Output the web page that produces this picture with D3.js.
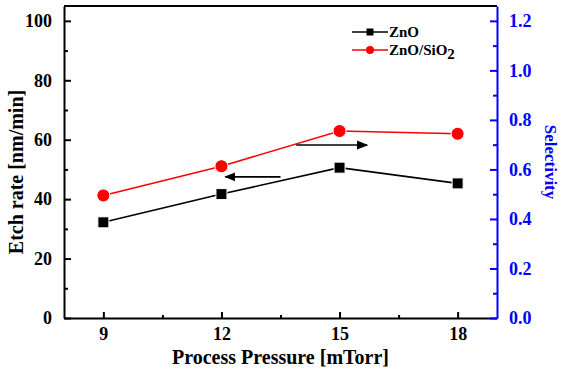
<!DOCTYPE html>
<html>
<head>
<meta charset="utf-8">
<script src="https://cdn.jsdelivr.net/npm/d3@7"></script>
<style>
  body { margin: 0; background: #fff; }
  svg text { font-family: "Liberation Serif", "Times New Roman", serif; font-weight: bold; }
</style>
</head>
<body>
<div id="chart"></div>
<script>
// data
const pressures = [9, 12, 15, 18];
const etchZnO = [32.2, 41.7, 50.6, 45.3];          // nm/min, left axis
const selectivity = [0.495, 0.613, 0.755, 0.744];   // right axis
const xTicks = [9, 12, 15, 18];
const yTicksLeft = [0, 20, 40, 60, 80, 100];
const yTicksRight = [0, 0.2, 0.4, 0.6, 0.8, 1.0, 1.2];

const width = 561, height = 371;
const margin = { top: 6, right: 64, bottom: 53, left: 64 };
const plotW = width - margin.left - margin.right;
const plotH = height - margin.top - margin.bottom;

const svg = d3.select('#chart').append('svg')
  .attr('width', width)
  .attr('height', height);

const g = svg.append('g').attr('transform', `translate(${margin.left},${margin.top})`);

const x = d3.scaleLinear().domain([8, 19]).range([0, plotW]);
const yL = d3.scaleLinear().domain([0, 105]).range([plotH, 0]);
const yR = d3.scaleLinear().domain([0, 1.26]).range([plotH, 0]);

const BLUE = '#0000ff';

// minor ticks (inward)
g.append('g').call(d3.axisBottom(x).tickValues([10.5, 13.5, 16.5]).tickSize(-3).tickFormat(''))
  .attr('transform', `translate(0,${plotH})`)
  .call(s => s.select('.domain').remove())
  .call(s => s.selectAll('line').attr('stroke-width', 2));
g.append('g').call(d3.axisLeft(yL).tickValues([10, 30, 50, 70, 90]).tickSize(-4).tickFormat(''))
  .call(s => s.select('.domain').remove())
  .call(s => s.selectAll('line').attr('stroke-width', 2));
g.append('g').attr('transform', `translate(${plotW},0)`)
  .call(d3.axisRight(yR).tickValues([0.1, 0.3, 0.5, 0.7, 0.9, 1.1]).tickSize(-4).tickFormat(''))
  .call(s => s.select('.domain').remove())
  .call(s => s.selectAll('line').attr('stroke', BLUE).attr('stroke-width', 2));

// major axes
g.append('g').attr('class', 'x-axis')
  .attr('transform', `translate(0,${plotH})`)
  .call(d3.axisBottom(x).tickValues(xTicks).tickSize(-6).tickSizeOuter(0).tickPadding(9))
  .call(s => s.select('.domain').attr('stroke-width', 2))
  .call(s => s.selectAll('line').attr('stroke-width', 2))
  .selectAll('text').style('font-size', '18px').attr('fill', '#000');

g.append('g').attr('class', 'y-axis')
  .call(d3.axisLeft(yL).tickValues(yTicksLeft).tickSize(-7).tickSizeOuter(0).tickPadding(12))
  .call(s => s.select('.domain').attr('stroke-width', 2))
  .call(s => s.selectAll('line').attr('stroke-width', 2))
  .selectAll('text').style('font-size', '18px').attr('fill', '#000');

g.append('g').attr('class', 'y2-axis')
  .attr('transform', `translate(${plotW},0)`)
  .call(d3.axisRight(yR).tickValues(yTicksRight).tickSize(-7).tickSizeOuter(0).tickPadding(12).tickFormat(d3.format('.1f')))
  .call(s => s.select('.domain').attr('stroke', BLUE).attr('stroke-width', 2))
  .call(s => s.selectAll('line').attr('stroke', BLUE).attr('stroke-width', 2))
  .selectAll('text').style('font-size', '18px').attr('fill', BLUE);

// top frame
g.append('line').attr('x1', 0).attr('x2', plotW).attr('y1', 0).attr('y2', 0)
  .attr('stroke', '#000').attr('stroke-width', 2);

// axis titles
svg.append('text')
  .attr('x', margin.left + plotW / 2).attr('y', 364)
  .attr('text-anchor', 'middle')
  .style('font-size', '20px')
  .text('Process Pressure [mTorr]');

svg.append('text')
  .attr('transform', `translate(23,${172}) rotate(-90)`)
  .attr('text-anchor', 'middle')
  .style('font-size', '20px')
  .text('Etch rate [nm/min]');

svg.append('text')
  .attr('transform', `translate(545,${162}) rotate(90)`)
  .attr('text-anchor', 'middle')
  .attr('fill', BLUE)
  .style('font-size', '17px')
  .text('Selectivity');

// series
const znoPts = pressures.map((p, i) => [x(p), yL(etchZnO[i])]);
const selPts = pressures.map((p, i) => [x(p), yR(selectivity[i])]);

g.append('path').attr('d', d3.line()(znoPts))
  .attr('fill', 'none').attr('stroke', '#000').attr('stroke-width', 1.6);
g.append('path').attr('d', d3.line()(selPts))
  .attr('fill', 'none').attr('stroke', '#ff0000').attr('stroke-width', 1.6);

g.selectAll('rect.zno').data(znoPts).join('rect')
  .attr('class', 'zno')
  .attr('x', d => d[0] - 5.5).attr('y', d => d[1] - 5.5)
  .attr('width', 11).attr('height', 11)
  .attr('fill', '#000').attr('stroke', '#fff').attr('stroke-width', 1);
g.selectAll('circle.sel').data(selPts).join('circle')
  .attr('class', 'sel')
  .attr('cx', d => d[0]).attr('cy', d => d[1]).attr('r', 6.5)
  .attr('fill', '#ff0000').attr('stroke', '#fff').attr('stroke-width', 1);

// arrows pointing to the relevant axis
const defs = svg.append('defs');
defs.append('marker').attr('id', 'arr')
  .attr('viewBox', '0 0 10 10').attr('refX', 9).attr('refY', 5)
  .attr('markerWidth', 7).attr('markerHeight', 7).attr('orient', 'auto-start-reverse')
  .append('path').attr('d', 'M0,1 L10,5 L0,9 z').attr('fill', '#000');

g.append('line')
  .attr('x1', x(13.9)).attr('x2', x(15.7))
  .attr('y1', yL(58.2)).attr('y2', yL(58.2))
  .attr('stroke', '#000').attr('stroke-width', 1.6).attr('marker-end', 'url(#arr)');
g.append('line')
  .attr('x1', x(13.5)).attr('x2', x(12.1))
  .attr('y1', yL(47.5)).attr('y2', yL(47.5))
  .attr('stroke', '#000').attr('stroke-width', 1.6).attr('marker-end', 'url(#arr)');

// legend
const legend = svg.append('g').attr('transform', 'translate(352,0)');
const legendItems = [
  { color: '#000', y: 32, shape: 'rect' },
  { color: '#ff0000', y: 50, shape: 'circle' }
];
legendItems.forEach(it => {
  legend.append('line').attr('x1', 0).attr('x2', 36).attr('y1', it.y).attr('y2', it.y)
    .attr('stroke', it.color).attr('stroke-width', 1.6);
  if (it.shape === 'rect') {
    legend.append('rect').attr('x', 14.5).attr('y', it.y - 3.5).attr('width', 7).attr('height', 7).attr('fill', it.color);
  } else {
    legend.append('circle').attr('cx', 18).attr('cy', it.y).attr('r', 4).attr('fill', it.color);
  }
});
legend.append('text').attr('x', 37).attr('y', 37).style('font-size', '15px').text('ZnO');
const t2 = legend.append('text').attr('x', 37).attr('y', 55).style('font-size', '15px');
t2.append('tspan').text('ZnO/SiO');
t2.append('tspan').attr('dy', 4).style('font-size', '15px').text('2');
</script>
</body>
</html>
